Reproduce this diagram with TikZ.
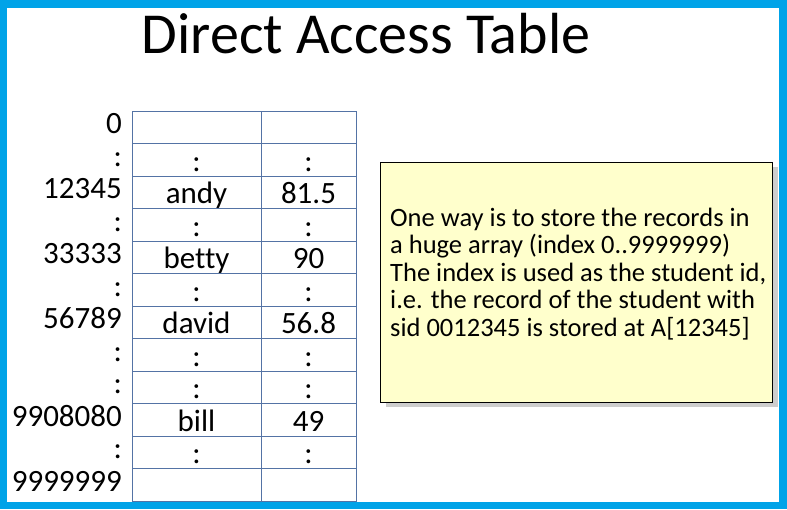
\documentclass[tikz,border=0pt]{standalone}
\usepackage{fontspec}
\setmainfont{Carlito}[Ligatures={NoCommon}]
\definecolor{framecyan}{RGB}{0,163,232}
\definecolor{gridblue}{RGB}{84,115,165}
\definecolor{notefill}{RGB}{255,255,204}
\definecolor{noteshadow}{RGB}{205,205,205}
\begin{document}
\begin{tikzpicture}[x=1pt,y=-1pt,
  cell/.style={draw=gridblue, line width=0.9pt, inner sep=0pt,
    minimum height=32.5pt, text height=27.5pt, text depth=5pt,
    font=\fontsize{31}{37}\selectfont},
  keycol/.style={cell, minimum width=129pt},
  valcol/.style={cell, minimum width=95pt},
  idx/.style={anchor=base east, inner sep=0pt, font=\fontsize{31}{37}\selectfont},
  notebox/.style={draw=black, line width=0.8pt, fill=notefill,
    minimum width=392pt, minimum height=240pt, inner sep=0pt},
  noteline/.style={anchor=base west, inner sep=0pt, font=\fontsize{26.5}{30}\selectfont}]
\useasboundingbox (0,0) rectangle (787,509);
% frame
\fill[framecyan] (0,0) rectangle (787,509);
\fill[white] (7,8) rectangle (779,502);

% heading
\node[anchor=base, inner sep=0pt, font=\fontsize{58}{70}\selectfont] (title) at (366,53) {Direct Access Table};

% the table: index, name, score
\foreach \i/\k/\nm/\sc in {0/0/{}/{}, 1/:/:/:, 2/12345/andy/81.5, 3/:/:/:,
    4/33333/betty/90, 5/:/:/:, 6/56789/david/56.8, 7/:/:/:, 8/:/:/:,
    9/9908080/bill/49, 10/:/:/:, 11/9999999/{}/{}} {
  \pgfmathsetmacro\cy{111+32.5*(\i+0.5)}
  \node[idx] (k\i) at (122,\cy+6.5) {\k};
  \node[keycol] (n\i) at (196.5,\cy) {\nm};
  \node[valcol] (s\i) at (308.5,\cy) {\sc};
}

% explanation note
\fill[noteshadow] (385.5,167.3) rectangle (777.5,407.3);
\node[notebox] (note) at (576.5,282.3) {};
\node[noteline] (l1) at (390,226) {One way is to store the records in};
\node[noteline] (l2) at (390,253.5) {a huge array (index 0..9999999)};
\node[noteline] (l3) at (390,281) {The index is used as the student id,};
\node[noteline] (l4) at (390,308.5) {i.e. the record of the student with};
\node[noteline] (l5) at (390,336) {sid 0012345 is stored at A[12345]};
\end{tikzpicture}
\end{document}
